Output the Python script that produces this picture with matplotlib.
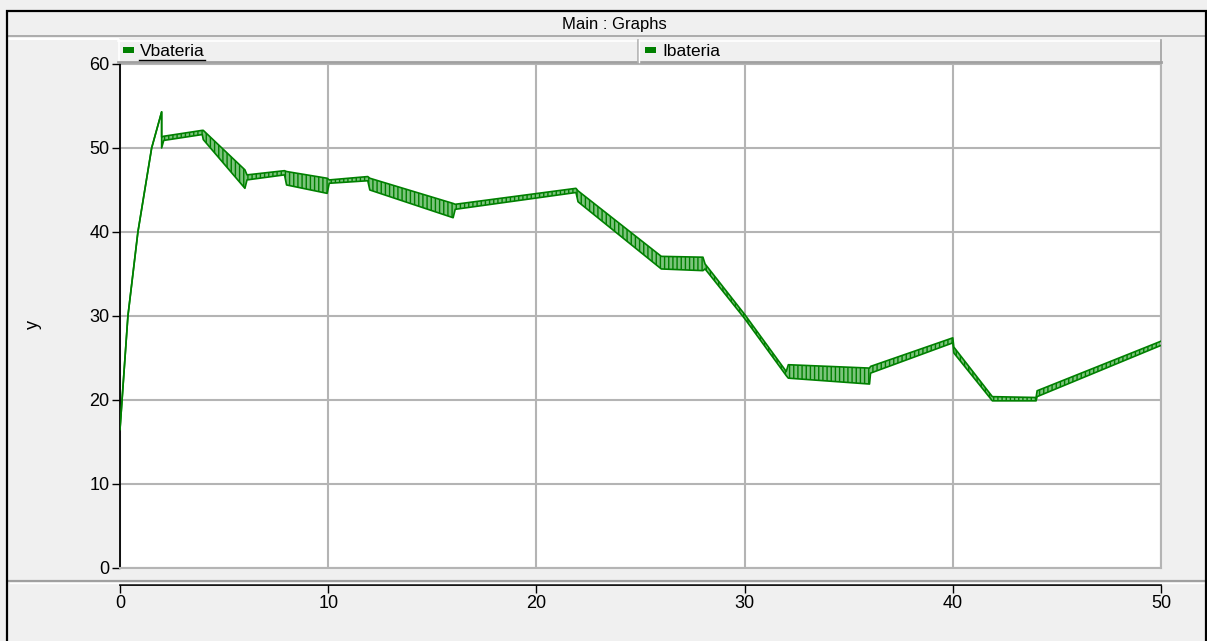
import matplotlib
matplotlib.use("Agg")
import matplotlib.pyplot as plt
from matplotlib import font_manager
from matplotlib.patches import Rectangle
from matplotlib.lines import Line2D

# ---------------- data ----------------
time_s = [0.0, 0.38, 0.86, 1.52, 2.0, 2.0, 2.1, 3.95, 4.0, 6.0, 6.1, 7.9, 8.0, 9.95,
          10.05, 11.9, 12.0, 16.0, 16.1, 21.9, 22.0, 26.0, 28.0, 28.1, 30.0, 32.0,
          32.1, 36.0, 36.05, 40.0, 40.05, 41.9, 44.0, 44.05, 50.0]
v_upper = [16.5, 30.0, 40.0, 50.0, 54.3, 51.3, 51.4, 52.1, 52.1, 47.4, 46.8, 47.3, 47.2, 46.4,
           46.2, 46.6, 46.4, 43.4, 43.3, 45.2, 44.9, 37.1, 37.0, 36.2, 30.2, 23.4,
           24.2, 23.8, 24.0, 27.4, 26.3, 20.4, 20.3, 21.1, 27.0]
v_lower = [16.5, 30.0, 40.0, 50.0, 54.3, 50.0, 50.9, 51.6, 51.0, 45.2, 46.2, 46.8, 45.6, 44.6,
           45.8, 46.1, 45.0, 41.7, 42.7, 44.7, 43.6, 35.6, 35.4, 35.6, 29.7, 22.9,
           22.6, 21.9, 23.2, 26.8, 25.6, 19.9, 19.9, 20.4, 26.5]

x_ticks = [0, 10, 20, 30, 40, 50]
y_ticks = [0, 10, 20, 30, 40, 50, 60]
legend_labels = ["Vbateria", "Ibateria"]
title_text = "Main : Graphs"
y_label = "y"

# ---------------- style ----------------
W, H = 1207, 641
names = {f.name for f in font_manager.fontManager.ttflist}
fam = "Liberation Sans" if "Liberation Sans" in names else "DejaVu Sans"
plt.rcParams["font.family"] = [fam, "DejaVu Sans"]
plt.rcParams["font.size"] = 12
plt.rcParams["hatch.linewidth"] = 1.0
plt.rcParams["hatch.color"] = "#008000"

GREEN = "#008000"
LIGHTG = "#7cc47c"
BG = "#f0f0f0"
GRID = "#b4b4b4"
TICKFS = 13


def fx(x):
    return x / W


def fy(y):
    return 1 - y / H


fig = plt.figure(figsize=(W / 100, H / 100), dpi=100, facecolor=BG)


def hline(x0, x1, y, color, lw=1.0, z=5):
    fig.add_artist(Line2D([fx(x0), fx(x1)], [fy(y), fy(y)], color=color, lw=lw,
                          transform=fig.transFigure, zorder=z))


def vline(x, y0, y1, color, lw=1.0, z=5):
    fig.add_artist(Line2D([fx(x), fx(x)], [fy(y0), fy(y1)], color=color, lw=lw,
                          transform=fig.transFigure, zorder=z))


# outer border
fig.add_artist(Rectangle((fx(7), fy(645)), fx(1206) - fx(7), fy(11) - fy(645), fill=False,
                         edgecolor="black", lw=1.6, transform=fig.transFigure, zorder=6))
# title bar separator
hline(8, 1207, 36, "#a0a0a0", 1.2)
hline(9, 118, 38.5, "white", 1.5)
fig.text(fx(614), fy(24), title_text, ha="center", va="center", fontsize=12)

# legend bar
fig.add_artist(Rectangle((fx(118), fy(62)), fx(1161) - fx(118), fy(40) - fy(62),
                         facecolor=BG, edgecolor="none", transform=fig.transFigure, zorder=4))
hline(118, 1161, 40.5, "white", 1.2)
vline(118.5, 40, 62, "white", 1.2)
hline(118, 1161, 62, "#a0a0a0", 2.0)
vline(1160.5, 40, 62, "#a0a0a0", 1.2)
vline(638, 40, 62, "#b0b0b0", 1.2)
vline(639.5, 40, 62, "white", 1.0)

leg_sq_x = [123, 645]
leg_txt_x = [140, 662]
for sx, tx, lab in zip(leg_sq_x, leg_txt_x, legend_labels):
    fig.add_artist(Rectangle((fx(sx), fy(53)), fx(11), fy(47) - fy(53), facecolor=GREEN,
                             edgecolor="none", transform=fig.transFigure, zorder=6))
    fig.text(fx(tx), fy(51.5), lab, ha="left", va="center", fontsize=12.5, zorder=7)
hline(139, 205, 59.5, "black", 1.0, 7)

# main axes
ax = fig.add_axes([fx(120), fy(568), fx(1161) - fx(120), fy(64) - fy(568)])
ax.set_facecolor("white")
ax.set_xlim(0, 50)
ax.set_ylim(0, 60)
ax.set_xticks(x_ticks)
ax.set_yticks(y_ticks)
ax.grid(True, color=GRID, lw=1.5, zorder=0)
ax.tick_params(axis="x", bottom=False, labelbottom=False)
ax.tick_params(axis="y", direction="out", length=6, width=1.0, pad=1.5, labelsize=TICKFS,
               colors="black")
for s in ["top", "right", "bottom"]:
    ax.spines[s].set_color(GRID)
    ax.spines[s].set_linewidth(1.5)
ax.spines["top"].set_visible(False)
ax.spines["left"].set_color("black")
ax.spines["left"].set_linewidth(1.3)
ax.spines["left"].set_bounds(0, 60)
ax.set_axisbelow(True)

ax.fill_between(time_s, v_lower, v_upper, facecolor=LIGHTG, edgecolor=GREEN, hatch="||||",
                linewidth=0, zorder=2)
ax.plot(time_s, v_upper, color=GREEN, lw=1.2, zorder=3)
ax.plot(time_s, v_lower, color=GREEN, lw=1.2, zorder=3)

# bottom panel separator
hline(8, 1207, 581, "#a0a0a0", 1.6)
hline(10, 1207, 583, "white", 1.0)

# x axis
axx = fig.add_axes([fx(120), fy(585), fx(1161) - fx(120), 0.0001])
axx.set_facecolor("none")
axx.set_xlim(0, 50)
axx.set_xticks(x_ticks)
axx.set_yticks([])
for s in ["top", "left", "right"]:
    axx.spines[s].set_visible(False)
axx.spines["bottom"].set_linewidth(1.3)
axx.tick_params(axis="x", direction="out", length=6, width=1.0, pad=1.5, labelsize=TICKFS)

fig.text(fx(33), fy(325), y_label, rotation=90, ha="center", va="center", fontsize=13)

fig.savefig("out.png", dpi=100, facecolor=BG)
